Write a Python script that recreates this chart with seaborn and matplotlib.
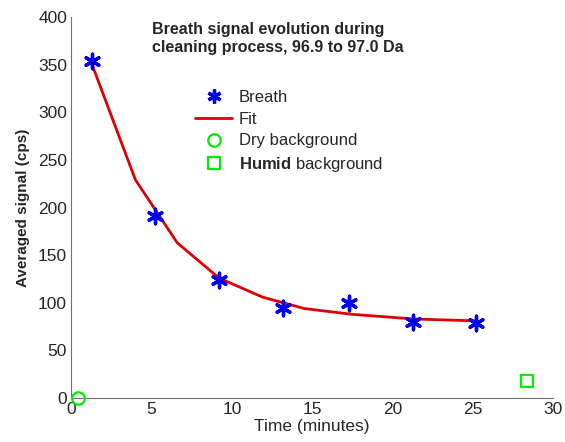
import matplotlib
matplotlib.use("Agg")
import matplotlib.pyplot as plt
from matplotlib.lines import Line2D
import seaborn as sns
import pandas as pd

# breath measurements
breath_t = [1.3, 5.2, 9.2, 13.2, 17.3, 21.3, 25.2]
breath_sig = [354, 191, 124, 95, 100, 80, 79]

# fitted curve (as drawn, piecewise)
fit_t = [1.3, 4.0, 6.6, 9.2, 11.9, 14.5, 17.4, 21.3, 25.2]
fit_sig = [350, 229, 163, 126, 106, 94, 88, 83, 81]

dry_t = [0.45]
dry_sig = [0]
humid_t = [28.4]
humid_sig = [18]

sns.set_style("white")
plt.rcParams['font.family'] = ['Liberation Sans', 'DejaVu Sans']
plt.rcParams['mathtext.fontset'] = 'custom'
plt.rcParams['mathtext.bf'] = 'Liberation Sans:bold'

fig = plt.figure(figsize=(5.65, 4.42), dpi=100)
ax = fig.add_axes([0.126, 0.0995, 0.853, 0.862])

star = (6, 2, 0)
sns.lineplot(x=fit_t, y=fit_sig, ax=ax, color='#dd0000', lw=2, zorder=2)
sns.scatterplot(x=breath_t, y=breath_sig, ax=ax, marker=star, s=110,
                color='#0000ee', edgecolor='#0000ee', linewidth=2.4, zorder=3)
ax.plot(dry_t, dry_sig, 'o', ms=9, mfc='none', mec='#00ee00', mew=1.6, clip_on=False, zorder=4)
ax.plot(humid_t, humid_sig, 's', ms=8, mfc='none', mec='#00ee00', mew=1.6, zorder=4)

ax.set_xlim(0, 30)
ax.set_ylim(0, 400)
ax.set_xticks(range(0, 31, 5))
ax.set_yticks(range(0, 401, 50))
for s in ['top', 'right']:
    ax.spines[s].set_visible(False)
for s in ['left', 'bottom']:
    ax.spines[s].set_color('#707070')
ax.tick_params(direction='in', length=5, color='#707070', labelsize=12.5, pad=3)
ax.set_xlabel('Time (minutes)', fontsize=12.5, labelpad=1)
ax.set_ylabel('Averaged signal (cps)', fontsize=11, fontweight='bold', labelpad=6)

ax.text(5.0, 395, 'Breath signal evolution during\ncleaning process, 96.9 to 97.0 Da',
        fontsize=11.5, fontweight='bold', va='top', ha='left', linespacing=1.25)

handles = [
    Line2D([], [], ls='none', marker=star, ms=10, mec='#0000ee', mew=2.4),
    Line2D([], [], color='#dd0000', lw=2),
    Line2D([], [], ls='none', marker='o', ms=9, mfc='none', mec='#00ee00', mew=1.6),
    Line2D([], [], ls='none', marker='s', ms=8, mfc='none', mec='#00ee00', mew=1.6),
]
labels = ['Breath', 'Fit', 'Dry background', r'$\bf{Humid}$ background']
ax.legend(handles, labels, loc='upper left', bbox_to_anchor=(0.24, 0.83),
          frameon=False, fontsize=12, handlelength=2.2, handletextpad=0.4,
          labelspacing=0.4, borderpad=0)

fig.savefig('out.png', dpi=100)
